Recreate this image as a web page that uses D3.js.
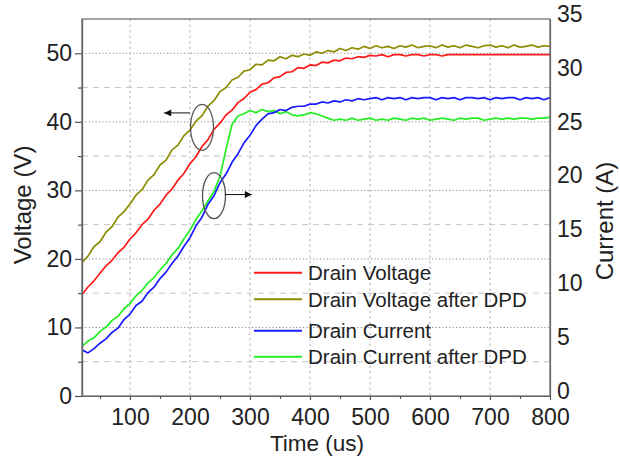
<!DOCTYPE html>
<html>
<head>
<meta charset="utf-8">
<script src="https://cdn.jsdelivr.net/npm/d3@7"></script>
<style>
  body { margin: 0; background: #fff; }
  text { font-family: "Liberation Sans", Arial, sans-serif; fill: #222; }
</style>
</head>
<body>
<div id="chart"></div>
<script>

// sample times (us)
var time = [20,30,40,50,60,70,80,90,100,110,120,130,140,150,160,170,180,190,200,210,
	220,230,240,250,260,270,280,290,300,310,320,330,340,350,360,370,380,390,400,410,
	420,430,440,450,460,470,480,490,500,510,520,530,540,550,560,570,580,590,600,610,
	620,630,640,650,660,670,680,690,700,710,720,730,740,750,760,770,780,790,800];

// voltages (V), left axis
var drainV = [14.8,15.9,16.8,17.9,19.0,19.8,20.9,21.7,22.9,23.8,25.0,25.8,27.1,28.0,29.3,30.2,31.5,32.5,33.9,34.9,
	36.4,37.4,38.9,39.8,41.0,41.7,42.8,43.4,44.3,44.7,45.5,45.7,46.4,46.6,47.2,47.3,47.9,47.8,48.3,48.2,
	48.7,48.6,49.0,48.9,49.3,49.2,49.5,49.4,49.7,49.6,49.8,49.5,49.8,49.8,49.6,49.8,49.8,49.6,49.8,49.8,
	49.6,49.8,49.8,49.8,49.8,49.8,49.8,49.8,49.8,49.8,49.8,49.8,49.8,49.8,49.8,49.8,49.8,49.8,49.8];

var drainVDpd = [19.5,20.4,21.8,22.5,23.9,24.7,26.1,26.9,28.0,29.3,30.1,31.5,32.3,33.7,34.4,35.9,36.6,38.0,38.8,40.1,
	40.9,42.3,43.1,44.4,45.0,46.1,46.5,47.4,47.6,48.4,48.3,49.0,48.9,49.5,49.2,49.7,49.5,49.9,49.7,50.2,
	50.0,50.4,50.2,50.7,50.4,50.8,50.6,51.0,50.7,51.1,50.8,51.0,50.7,51.1,50.9,51.2,50.8,51.0,51.1,50.8,
	51.2,50.9,51.1,50.8,51.2,51.0,50.8,51.1,51.2,50.9,51.1,50.8,51.2,50.9,51.0,51.2,50.9,51.1,51.0];

// currents (A), right axis
var drainI = [4.3,4.0,4.4,4.9,5.3,5.9,6.3,7.1,7.6,8.4,8.8,9.6,10.1,10.9,11.5,12.3,13.0,13.9,14.7,15.8,
	16.6,17.8,18.6,19.8,20.6,21.7,22.5,23.5,24.2,25.1,25.7,26.2,26.3,26.6,26.5,26.8,26.9,26.9,27.1,27.1,
	27.3,27.2,27.4,27.3,27.5,27.4,27.6,27.5,27.6,27.7,27.5,27.7,27.6,27.7,27.5,27.7,27.6,27.7,27.7,27.5,
	27.7,27.6,27.7,27.5,27.7,27.7,27.6,27.7,27.5,27.7,27.6,27.7,27.7,27.5,27.7,27.6,27.7,27.5,27.7];

var drainIDpd = [4.6,5.1,5.4,6.0,6.4,7.0,7.4,8.1,8.6,9.3,9.8,10.5,11.0,11.7,12.3,13.1,13.7,14.6,15.4,16.4,
	17.2,18.1,19.0,20.4,22.9,25.2,26.0,26.2,26.5,26.3,26.6,26.4,26.5,26.2,26.4,26.1,26.0,26.1,26.3,26.2,
	26.0,25.8,25.6,25.7,25.6,25.8,25.6,25.7,25.8,25.6,25.7,25.6,25.8,25.7,25.6,25.8,25.7,25.8,25.6,25.7,
	25.8,25.7,25.6,25.8,25.7,25.8,25.8,25.6,25.7,25.8,25.7,25.8,25.7,25.8,25.8,25.7,25.8,25.8,25.9];

// ticks
var timeTicks = [100,200,300,400,500,600,700,800];
var timeMinor = [50,150,250,350,450,550,650,750];
var voltTicks = [0,10,20,30,40,50];
var voltMinor = [5,15,25,35,45];
var currTicks = [0,5,10,15,20,25,30,35];

// legend
var seriesNames = ["Drain Voltage", "Drain Voltage after DPD", "Drain Current", "Drain Current after DPD"];
var seriesColors = ["#ff1a1a", "#8c8c00", "#1a1aff", "#22ee22"];

// ellipse markers and arrows (data units)
var markT = [220, 240];
var markV = [39.2, 18.6];
var arrowFrom = [200, 258];
var arrowTo = [157, 303];
var arrowV = [41.3, 18.7];

var margin = {top: 19, right: 70, bottom: 60, left: 82},
    width = 620 - margin.left - margin.right,
    height = 456 - margin.top - margin.bottom;

var svg = d3.select("#chart")
  .append("svg")
    .attr("width", 620)
    .attr("height", 456)
  .append("g")
    .attr("transform", "translate(" + margin.left + "," + margin.top + ")");

var x = d3.scaleLinear().domain([20, 800]).range([0, width]);
var yV = d3.scaleLinear().domain([0, 55]).range([height, 0]);
var yI = d3.scaleLinear().domain([0, 35]).range([height, 0]);

// grid
svg.selectAll(".hminor")
  .data(voltMinor).enter().append("line")
    .attr("x1", 0).attr("x2", width)
    .attr("y1", function(d) { return yV(d); })
    .attr("y2", function(d) { return yV(d); })
    .attr("stroke", "#c4c4c4").attr("stroke-width", 1)
    .attr("stroke-dasharray", "6,5");

svg.selectAll(".hmajor")
  .data(voltTicks.slice(1)).enter().append("line")
    .attr("x1", 0).attr("x2", width)
    .attr("y1", function(d) { return yV(d); })
    .attr("y2", function(d) { return yV(d); })
    .attr("stroke", "#8a8a8a").attr("stroke-width", 1)
    .attr("stroke-dasharray", "1.2,2.2");

svg.selectAll(".vmajor")
  .data(timeTicks.slice(0, -1)).enter().append("line")
    .attr("x1", function(d) { return x(d); })
    .attr("x2", function(d) { return x(d); })
    .attr("y1", 0).attr("y2", height)
    .attr("stroke", "#b4b4b4").attr("stroke-width", 1)
    .attr("stroke-dasharray", "2.5,3");

// curves
svg.append("clipPath").attr("id", "clip")
  .append("rect").attr("width", width).attr("height", height);

var series = [
  {vals: drainV, y: yV},
  {vals: drainVDpd, y: yV},
  {vals: drainI, y: yI},
  {vals: drainIDpd, y: yI}
];

var plot = svg.append("g").attr("clip-path", "url(#clip)");
// draw in order so green/blue sit on top as in the picture
[1, 0, 3, 2].forEach(function(k) {
  var s = series[k];
  var line = d3.line()
    .x(function(d, i) { return x(time[i]); })
    .y(function(d) { return s.y(d); });
  plot.append("path")
    .datum(s.vals)
    .attr("fill", "none")
    .attr("stroke", seriesColors[k])
    .attr("stroke-width", 1.7)
    .attr("stroke-linejoin", "round")
    .attr("d", line);
});

// frame
svg.append("rect")
  .attr("width", width).attr("height", height)
  .attr("fill", "none").attr("stroke", "#666").attr("stroke-width", 1.2);

// axes
var xAxis = svg.append("g")
  .attr("transform", "translate(0," + height + ")")
  .call(d3.axisBottom(x).tickValues(timeTicks).tickSize(4).tickPadding(9).tickSizeOuter(0));
svg.append("g")
  .attr("transform", "translate(0," + height + ")")
  .call(d3.axisBottom(x).tickValues(timeMinor).tickSize(3).tickFormat("").tickSizeOuter(0));

var yAxis = svg.append("g")
  .call(d3.axisLeft(yV).tickValues(voltTicks).tickSize(7).tickPadding(3).tickSizeOuter(0));
svg.append("g")
  .call(d3.axisLeft(yV).tickValues(voltMinor).tickSize(4).tickFormat("").tickSizeOuter(0));

var y2Axis = svg.append("g")
  .attr("transform", "translate(" + width + ",0)")
  .call(d3.axisRight(yI).tickValues(currTicks).tickSize(0).tickPadding(7).tickSizeOuter(0));
y2Axis.selectAll("text").attr("dy", "0.1em");

svg.selectAll(".domain").attr("stroke", "#666").attr("stroke-width", 1.2);
svg.selectAll(".tick line").attr("stroke", "#555").attr("stroke-width", 1.2);
svg.selectAll(".tick text")
  .attr("font-size", "23px")
  .attr("font-family", "Liberation Sans, Arial, sans-serif")
  .attr("fill", "#222");

// axis titles
svg.append("text")
  .attr("x", width / 2 + 1)
  .attr("y", height + 55)
  .attr("text-anchor", "middle")
  .attr("font-size", "22.5px")
  .text("Time (us)");

svg.append("text")
  .attr("transform", "translate(" + (31 - margin.left) + "," + (205 - margin.top) + ") rotate(-90)")
  .attr("text-anchor", "middle")
  .attr("font-size", "24px")
  .text("Voltage (V)");

svg.append("text")
  .attr("transform", "translate(" + (613 - margin.left) + "," + (221 - margin.top) + ") rotate(-90)")
  .attr("text-anchor", "middle")
  .attr("font-size", "24px")
  .text("Current (A)");

// ellipse markers
var markY = [yV, yI];
markT.forEach(function(t, i) {
  svg.append("ellipse")
    .attr("cx", x(t))
    .attr("cy", markY[i](markV[i]))
    .attr("rx", 11.5)
    .attr("ry", 23)
    .attr("fill", "none")
    .attr("stroke", "#555")
    .attr("stroke-width", 1.3);
});

// arrows
svg.append("defs").append("marker")
  .attr("id", "head")
  .attr("viewBox", "0 0 10 10")
  .attr("refX", 10).attr("refY", 5)
  .attr("markerWidth", 9).attr("markerHeight", 7)
  .attr("markerUnits", "userSpaceOnUse")
  .attr("orient", "auto")
  .append("path").attr("d", "M0,0L10,5L0,10Z").attr("fill", "#111");

arrowFrom.forEach(function(t, i) {
  svg.append("line")
    .attr("x1", x(t)).attr("x2", x(arrowTo[i]))
    .attr("y1", markY[i](arrowV[i])).attr("y2", markY[i](arrowV[i]))
    .attr("stroke", "#111").attr("stroke-width", 1)
    .attr("marker-end", "url(#head)");
});

// legend
var legRows = [272.7, 299.3, 330.7, 356.7];
var legend = svg.append("g")
  .attr("transform", "translate(" + (254 - margin.left) + "," + (-margin.top) + ")");
seriesNames.forEach(function(name, i) {
  legend.append("line")
    .attr("x1", 0).attr("x2", 48)
    .attr("y1", legRows[i]).attr("y2", legRows[i])
    .attr("stroke", seriesColors[i]).attr("stroke-width", 2);
  legend.append("text")
    .attr("x", 54)
    .attr("y", legRows[i])
    .attr("dy", "0.36em")
    .attr("font-size", "20.5px")
    .text(name);
});

</script>
</body>
</html>
